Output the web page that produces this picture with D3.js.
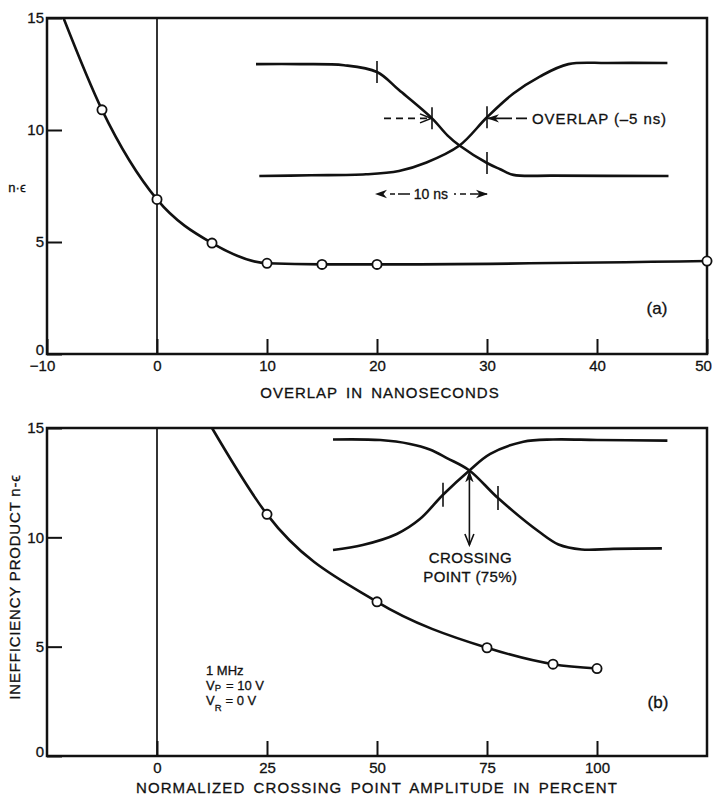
<!DOCTYPE html>
<html>
<head>
<meta charset="utf-8">
<script src="https://cdn.jsdelivr.net/npm/d3@7"></script>
<style>
  html, body { margin: 0; padding: 0; background: #fff; }
  svg { display: block; }
  text { font-family: 'Liberation Sans', Arial, Helvetica, 'DejaVu Sans', sans-serif; fill: #111; stroke: #111; stroke-width: 0.3px; }
</style>
</head>
<body>
<svg id="chart" width="714" height="797"></svg>
<script>
// ---------- Panel (a): inefficiency product vs. clock overlap ----------
const overlapNs       = [-5, 0, 5, 10, 15, 20, 50];
const overlapProduct  = [10.9, 6.9, 4.95, 4.05, 4.0, 4.0, 4.15];
const overlapCurveTop = [-8.5, 15];          // where the fitted curve leaves the frame
const overlapXTicks   = [-10, 0, 10, 20, 30, 40, 50];
const overlapXLabels  = ["\u221210", "0", "10", "20", "30", "40", "50"];
const productYTicks   = [0, 5, 10, 15];

// clock waveforms of the inset (time in ns, amplitude in % of swing)
const clockFallA = [[9, 99], [13, 99], [17, 98], [20, 92], [22, 76], [25, 51], [26.4, 36], [27.5, 27], [30, 11.5], [31.2, 6], [32.4, 1], [36, 0.3], [46.5, 0]];
const clockRiseA = [[9.3, 0], [14, 0.6], [19, 1.5], [22, 4.5], [24.5, 12], [27.5, 27], [30, 52], [32.4, 73], [34.8, 88], [37.4, 99], [41, 100], [46.4, 100]];
const clockMarksA = [[20, 92], [25, 51], [30, 52], [30, 11.5]];

// ---------- Panel (b): inefficiency product vs. crossing point ----------
const crossingPct      = [25, 50, 75, 90, 100];
const crossingProduct  = [11.05, 7.05, 4.95, 4.2, 4.0];
const crossingCurveTop = [12.5, 15];
const crossingXTicks   = [0, 25, 50, 75, 100];

const clockFallB = [[0, 100], [4.3, 99.5], [7, 96], [8.8, 91], [10.4, 83], [12.4, 72], [15, 47], [18.8, 16], [20.5, 5], [22.6, 0.5], [25.5, 1], [29.9, 1.5]];
const clockRiseB = [[0, 0], [2.7, 4.5], [5.8, 14.5], [7.9, 28], [10, 50], [12.4, 72], [14.3, 87], [17.3, 98], [20, 100], [24, 99.6], [30.4, 99]];
const clockMarksB = [[10, 50], [15, 47]];
const crossingMark = [12.4, 72];

// ---------- layout ----------
const svg = d3.select("#chart");
const FRAME_W = 2.5, CURVE_W = 2.6, FONT = 15;

const xa = d3.scaleLinear().domain([-10, 50]).range([47, 707]);
const ya = d3.scaleLinear().domain([0, 15]).range([354, 18]);
const xb = d3.scaleLinear().domain([-25, 125]).range([47, 707]);
const yb = d3.scaleLinear().domain([0, 15]).range([756, 428]);

// inset scales
const waveAx = xa;                                            // same ns scale as panel (a)
const waveAy = d3.scaleLinear().domain([0, 100]).range([176, 63]);
const waveBx = d3.scaleLinear().domain([0, 30]).range([333, 663]);
const waveBy = d3.scaleLinear().domain([0, 100]).range([550, 439.5]);

// arrow heads
const defs = svg.append("defs");
defs.append("marker").attr("id", "barb")
  .attr("viewBox", "0 -5 12 10").attr("refX", 11).attr("refY", 0)
  .attr("markerWidth", 12).attr("markerHeight", 10)
  .attr("markerUnits", "userSpaceOnUse").attr("orient", "auto-start-reverse")
  .append("path").attr("d", "M0,-4.2L12,0L0,4.2L3.5,0Z").attr("fill", "#111");
defs.append("marker").attr("id", "chev")
  .attr("viewBox", "-1 -6 14 12").attr("refX", 11).attr("refY", 0)
  .attr("markerWidth", 14).attr("markerHeight", 12)
  .attr("markerUnits", "userSpaceOnUse").attr("orient", "auto-start-reverse")
  .append("path").attr("d", "M0,-4.5L11,0L0,4.5").attr("fill", "none")
  .attr("stroke", "#111").attr("stroke-width", 1.6);

function panel(x, y, xTicks, xLabels, yTicks, zeroX) {
  const g = svg.append("g");
  // frame
  g.append("rect")
    .attr("x", x.range()[0]).attr("y", y.range()[1])
    .attr("width", x.range()[1] - x.range()[0])
    .attr("height", y.range()[0] - y.range()[1])
    .attr("fill", "none").attr("stroke", "#111").attr("stroke-width", FRAME_W);
  // vertical reference at zero
  g.append("line")
    .attr("x1", x(zeroX)).attr("x2", x(zeroX))
    .attr("y1", y.range()[0]).attr("y2", y.range()[1])
    .attr("stroke", "#111").attr("stroke-width", 1.7);
  // y axis: inward ticks, labels outside
  const ay = g.append("g").attr("transform", `translate(${x.range()[0]},0)`)
    .call(d3.axisLeft(y).tickValues(yTicks).tickFormat(d3.format("d"))
      .tickSizeInner(-15).tickSizeOuter(0).tickPadding(3));
  // x axis
  const ax = g.append("g").attr("transform", `translate(0,${y.range()[0]})`)
    .call(d3.axisBottom(x).tickValues(xTicks)
      .tickFormat((d, i) => xLabels[i])
      .tickSizeInner(-15).tickSizeOuter(0).tickPadding(6));
  [ax, ay].forEach(a => {
    a.attr("font-family", null).attr("font-size", null);
    a.select(".domain").remove();
    a.selectAll(".tick line").attr("stroke", "#111").attr("stroke-width", 2);
    a.selectAll(".tick text").attr("font-size", FONT).attr("fill", "#111");
  });
  ax.selectAll(".tick text").filter(d => d < 0).attr("dx", -5);
  ax.selectAll(".tick text").filter(d => d === x.domain()[1]).attr("dx", -4);
  ay.selectAll(".tick text").filter(d => d === 0).attr("dy", "0.05em");
  return g;
}

const line = d3.line().curve(d3.curveMonotoneX);
const wave = d3.line().curve(d3.curveCatmullRom.alpha(0.5));

// ======== panel (a) ========
panel(xa, ya, overlapXTicks, overlapXLabels, productYTicks, 0);

const curveA = [overlapCurveTop].concat(overlapNs.map((d, i) => [d, overlapProduct[i]]));
svg.append("path")
  .attr("d", line.x(d => xa(d[0])).y(d => ya(d[1]))(curveA))
  .attr("fill", "none").attr("stroke", "#111").attr("stroke-width", CURVE_W);
svg.append("g").selectAll("circle").data(overlapNs).join("circle")
  .attr("cx", d => xa(d)).attr("cy", (d, i) => ya(overlapProduct[i])).attr("r", 4.6)
  .attr("fill", "#fff").attr("stroke", "#111").attr("stroke-width", 1.8);

// inset (a): two clock phases with -5 ns overlap
const insetA = svg.append("g");
[clockFallA, clockRiseA].forEach(w => {
  insetA.append("path")
    .attr("d", wave.x(d => waveAx(d[0])).y(d => waveAy(d[1]))(w))
    .attr("fill", "none").attr("stroke", "#111").attr("stroke-width", CURVE_W);
});
insetA.selectAll("line.mark").data(clockMarksA).join("line").attr("class", "mark")
  .attr("x1", d => waveAx(d[0])).attr("x2", d => waveAx(d[0]))
  .attr("y1", d => waveAy(d[1]) - 11).attr("y2", d => waveAy(d[1]) + 11)
  .attr("stroke", "#111").attr("stroke-width", 1.6);
const midA = waveAy(51);
// dashed pointer onto the falling edge
insetA.append("line")
  .attr("x1", waveAx(25) - 48).attr("x2", waveAx(25) - 1).attr("y1", midA).attr("y2", midA)
  .attr("stroke", "#111").attr("stroke-width", 1.6).attr("stroke-dasharray", "7 5")
  .attr("marker-end", "url(#chev)");
// pointer onto the rising edge with label
insetA.append("line")
  .attr("x1", waveAx(30) + 40).attr("x2", waveAx(30) + 1).attr("y1", midA).attr("y2", midA)
  .attr("stroke", "#111").attr("stroke-width", 1.6).attr("stroke-dasharray", "11 4 40")
  .attr("marker-end", "url(#barb)");
insetA.append("text").attr("x", waveAx(30) + 45).attr("y", midA + 5.5)
  .attr("font-size", FONT).attr("letter-spacing", 0.9).text("OVERLAP (\u20135 ns)");
// 10 ns span
const spanY = 194;
insetA.append("line")
  .attr("x1", waveAx(23)).attr("x2", waveAx(20) - 1).attr("y1", spanY).attr("y2", spanY)
  .attr("stroke", "#111").attr("stroke-width", 1.6).attr("stroke-dasharray", "12 3 5 20")
  .attr("marker-end", "url(#barb)");
insetA.append("line")
  .attr("x1", waveAx(27)).attr("x2", waveAx(30)).attr("y1", spanY).attr("y2", spanY)
  .attr("stroke", "#111").attr("stroke-width", 1.6).attr("stroke-dasharray", "2 4 6 4 30")
  .attr("marker-end", "url(#barb)");
insetA.append("text").attr("x", waveAx(24.9)).attr("y", spanY + 5)
  .attr("text-anchor", "middle").attr("font-size", 14).text("10 ns");

svg.append("text").attr("x", 657).attr("y", 314).attr("text-anchor", "middle")
  .attr("font-size", 17).text("(a)");
svg.append("text").attr("x", 17).attr("y", 192).attr("text-anchor", "middle")
  .attr("font-size", 13).text("n\u00b7\u03f5");
svg.append("text").attr("x", 380).attr("y", 398).attr("text-anchor", "middle")
  .attr("font-size", FONT).attr("letter-spacing", 1).attr("word-spacing", 3)
  .text("OVERLAP IN NANOSECONDS");

// ======== panel (b) ========
panel(xb, yb, crossingXTicks, crossingXTicks.map(String), productYTicks, 0);

const curveB = [crossingCurveTop].concat(crossingPct.map((d, i) => [d, crossingProduct[i]]));
svg.append("path")
  .attr("d", line.x(d => xb(d[0])).y(d => yb(d[1]))(curveB))
  .attr("fill", "none").attr("stroke", "#111").attr("stroke-width", CURVE_W);
svg.append("g").selectAll("circle").data(crossingPct).join("circle")
  .attr("cx", d => xb(d)).attr("cy", (d, i) => yb(crossingProduct[i])).attr("r", 4.6)
  .attr("fill", "#fff").attr("stroke", "#111").attr("stroke-width", 1.8);

// inset (b): clock phases crossing at 75 %
const insetB = svg.append("g");
[clockFallB, clockRiseB].forEach(w => {
  insetB.append("path")
    .attr("d", wave.x(d => waveBx(d[0])).y(d => waveBy(d[1]))(w))
    .attr("fill", "none").attr("stroke", "#111").attr("stroke-width", CURVE_W);
});
insetB.selectAll("line.mark").data(clockMarksB).join("line").attr("class", "mark")
  .attr("x1", d => waveBx(d[0])).attr("x2", d => waveBx(d[0]))
  .attr("y1", d => waveBy(d[1]) - 12).attr("y2", d => waveBy(d[1]) + 12)
  .attr("stroke", "#111").attr("stroke-width", 1.6);
insetB.append("line")
  .attr("x1", waveBx(crossingMark[0])).attr("x2", waveBx(crossingMark[0]))
  .attr("y1", waveBy(crossingMark[1]) + 1).attr("y2", 545)
  .attr("stroke", "#111").attr("stroke-width", 1.6)
  .attr("marker-start", "url(#barb)").attr("marker-end", "url(#chev)");
insetB.append("text").attr("x", waveBx(crossingMark[0]) + 1).attr("y", 563)
  .attr("text-anchor", "middle").attr("font-size", FONT).attr("letter-spacing", 0.4).text("CROSSING");
insetB.append("text").attr("x", waveBx(crossingMark[0]) + 1).attr("y", 582)
  .attr("text-anchor", "middle").attr("font-size", FONT).attr("letter-spacing", 0.4).text("POINT (75%)");

// operating conditions
const cond = svg.append("g").attr("font-size", 13);
cond.append("text").attr("x", 206).attr("y", 675).text("1 MHz");
const vp = cond.append("text").attr("x", 206).attr("y", 690);
vp.append("tspan").text("V");
vp.append("tspan").attr("font-size", 9.5).attr("dy", 1).text("P");
vp.append("tspan").attr("dx", 5).attr("dy", -1).text("= 10 V");
const vr = cond.append("text").attr("x", 206).attr("y", 705);
vr.append("tspan").text("V");
vr.append("tspan").attr("font-size", 9.5).attr("dy", 6).text("R");
vr.append("tspan").attr("dx", 4).attr("dy", -6).text("= 0 V");

svg.append("text").attr("x", 658).attr("y", 708).attr("text-anchor", "middle")
  .attr("font-size", 17).text("(b)");
svg.append("text").attr("transform", "translate(20,587) rotate(-90)")
  .attr("text-anchor", "middle").attr("font-size", FONT).attr("letter-spacing", 0.8)
  .text("INEFFICIENCY PRODUCT n-\u03f5");
svg.append("text").attr("x", 377).attr("y", 793).attr("text-anchor", "middle")
  .attr("font-size", FONT).attr("letter-spacing", 1.1).attr("word-spacing", 3)
  .text("NORMALIZED CROSSING POINT AMPLITUDE IN PERCENT");
</script>
</body>
</html>
